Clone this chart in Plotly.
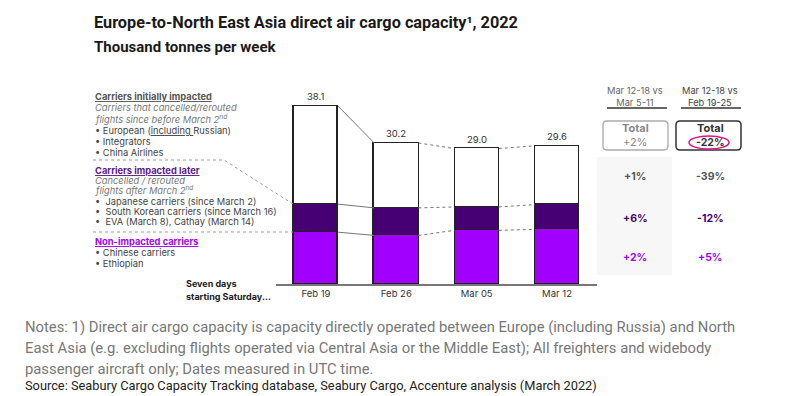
import plotly.graph_objects as go

# ---- data ----
weeks = ["Feb 19", "Feb 26", "Mar 05", "Mar 12"]
non_impacted = [11.1, 10.4, 11.5, 11.7]      # bright purple (bottom)
impacted_later = [6.0, 5.9, 5.0, 5.3]        # dark purple (middle)
initially_impacted = [21.0, 13.9, 12.5, 12.6]  # white (top)
totals = [38.1, 30.2, 29.0, 29.6]

col1_header = "Mar 12-18 vs<br>Mar 5-11"
col2_header = "Mar 12-18 vs<br>Feb 19-25"
col1_vals = ["+2%", "+1%", "+6%", "+2%"]
col2_vals = ["-22%", "-39%", "-12%", "+5%"]

W, H = 796, 396
DARK = "#460073"
BRIGHT = "#a100ff"
BAR_W = 0.55


def X(px):
    return px / W


def Y(py):
    return 1 - py / H


xs = list(range(len(weeks)))
fig = go.Figure()
for vals, color in [(non_impacted, BRIGHT), (impacted_later, DARK), (initially_impacted, "white")]:
    fig.add_trace(go.Bar(x=xs, y=vals, width=BAR_W, marker=dict(color=color, line=dict(color="#222", width=1.3)),
                         hoverinfo="skip", showlegend=False))

shapes = []
levels = []
for i in range(len(weeks)):
    a = non_impacted[i]
    b = a + impacted_later[i]
    c = b + initially_impacted[i]
    levels.append([a, b, c])
for i in range(len(weeks) - 1):
    for k in range(3):
        shapes.append(dict(type="line", xref="x", yref="y", x0=i + BAR_W / 2, x1=i + 1 - BAR_W / 2,
                           y0=levels[i][k], y1=levels[i + 1][k],
                           line=dict(color="#777", width=1, dash="solid" if i == 0 else "dot")))

shapes.append(dict(type="path", xref="paper", yref="paper",
                   path=f"M {X(93)} {Y(160)} L {X(224)} {Y(160)} L {X(293)} {Y(204)}",
                   line=dict(color="#999", width=1, dash="dot")))
shapes.append(dict(type="line", xref="paper", yref="paper", x0=X(93), x1=X(293), y0=Y(232), y1=Y(232),
                   line=dict(color="#999", width=1, dash="dot")))

shapes.append(dict(type="rect", xref="paper", yref="paper", x0=X(597), x1=X(672), y0=Y(275), y1=Y(157),
                   fillcolor="#f7f7f7", line=dict(width=0), layer="below"))
for x0, x1 in [(607, 667), (681, 741)]:
    shapes.append(dict(type="line", xref="paper", yref="paper", x0=X(x0), x1=X(x1), y0=Y(108), y1=Y(108),
                       line=dict(color="#333", width=1.5)))


def rrect(x0, y0, x1, y1, r):
    return (f"M {X(x0 + r)} {Y(y0)} L {X(x1 - r)} {Y(y0)} Q {X(x1)} {Y(y0)} {X(x1)} {Y(y0 + r)} "
            f"L {X(x1)} {Y(y1 - r)} Q {X(x1)} {Y(y1)} {X(x1 - r)} {Y(y1)} L {X(x0 + r)} {Y(y1)} "
            f"Q {X(x0)} {Y(y1)} {X(x0)} {Y(y1 - r)} L {X(x0)} {Y(y0 + r)} Q {X(x0)} {Y(y0)} {X(x0 + r)} {Y(y0)} Z")


shapes.append(dict(type="path", xref="paper", yref="paper", path=rrect(603, 121, 668, 150, 4),
                   line=dict(color="#aaa", width=1.3)))
shapes.append(dict(type="path", xref="paper", yref="paper", path=rrect(676, 121, 741, 150, 4),
                   line=dict(color="#333", width=1.5)))
shapes.append(dict(type="circle", xref="paper", yref="paper", x0=X(689), x1=X(729), y0=Y(149), y1=Y(136),
                   line=dict(color="#e0108a", width=1.5)))

ann = []


def t(px, py, text, size=9.3, color="#555", xanchor="left", family="Inter", yanchor="middle"):
    ann.append(dict(x=X(px), y=Y(py), xref="paper", yref="paper", text=text, showarrow=False,
                    xanchor=xanchor, yanchor=yanchor, font=dict(size=size, color=color, family=family),
                    align="left" if xanchor == "left" else "center"))


t(92, 22, "<b>Europe-to-North East Asia direct air cargo capacity¹, 2022</b>", size=16.3, color="#1a1a1a",
  family="Roboto")
t(92, 47, "<b>Thousand tonnes per week</b>", size=15, color="#1a1a1a", family="Roboto")

t(93, 97, "<b><u>Carriers initially impacted</u></b>", color="#555")
t(93, 108, "<i>Carriers that cancelled/rerouted</i>", color="#777")
t(93, 119, "<i>flights since before March 2<sup>nd</sup></i>", color="#777")
t(93, 130, "• European (<u>including </u>Russian)", color="#444")
t(93, 141, "• Integrators", color="#444")
t(93, 152, "• China Airlines", color="#444")
t(93, 170, "<b><u>Carriers impacted later</u></b>", color="#5a1a8a")
t(93, 180, "<i>Cancelled / rerouted</i>", color="#777")
t(93, 190, "<i>flights after March 2<sup>nd</sup></i>", color="#777")
t(93, 201, "•  Japanese carriers (since March 2)", color="#444")
t(93, 211, "•  South Korean carriers (since March 16)", color="#444")
t(93, 222, "•  EVA (March 8), Cathay (March 14)", color="#444")
t(93, 241, "<b><u>Non-impacted carriers</u></b>", color=BRIGHT)
t(93, 252, "• Chinese carriers", color="#444")
t(93, 263, "• Ethiopian", color="#444")
t(184, 283, "<b>Seven days</b>", size=9, color="#222")
t(184, 296, "<b>starting Saturday...</b>", size=9, color="#222")

for i, v in enumerate(totals):
    ann.append(dict(x=i, y=v, xref="x", yref="y", text=f"{v:.1f}", showarrow=False, yanchor="bottom", yshift=2,
                    font=dict(size=9.5, color="#333", family="Inter")))

t(635, 97, col1_header, size=9.3, color="#666", xanchor="center")
t(710, 97, col2_header, size=9.3, color="#444", xanchor="center")
t(635, 128, "<b>Total</b>", size=11, color="#888", xanchor="center")
t(635, 142, col1_vals[0], size=11, color="#888", xanchor="center")
t(710, 128, "<b>Total</b>", size=11, color="#333", xanchor="center")
t(710, 142, f"<b>{col2_vals[0]}</b>", size=10.5, color="#333", xanchor="center")
row_y = [176, 219, 257]
row_c = ["#555", DARK, BRIGHT]
for k in range(3):
    t(635, row_y[k], f"<b>{col1_vals[k + 1]}</b>", size=10.5, color=row_c[k], xanchor="center")
    t(710, row_y[k], f"<b>{col2_vals[k + 1]}</b>", size=10.5, color=row_c[k], xanchor="center")

t(23, 327, "Notes: 1) Direct air cargo capacity is capacity directly operated between Europe (including Russia) and North",
  size=14.8, color="#777", family="Roboto")
t(23, 348, "East Asia (e.g. excluding flights operated via Central Asia or the Middle East); All freighters and widebody",
  size=14.8, color="#777", family="Roboto")
t(23, 369, "passenger aircraft only; Dates measured in UTC time.", size=14.8, color="#777", family="Roboto")
t(23, 385, "Source: Seabury Cargo Capacity Tracking database, Seabury Cargo, Accenture analysis (March 2022)",
  size=12.8, color="#222", family="Roboto")

fig.update_layout(
    barmode="stack", width=W, height=H, autosize=False,
    margin=dict(l=0, r=0, t=0, b=0),
    paper_bgcolor="white", plot_bgcolor="white",
    shapes=shapes, annotations=ann, bargap=0,
    xaxis=dict(domain=[275.8 / W, 597.2 / W], range=[-0.5, 3.5], tickvals=xs, ticktext=weeks,
               showline=True, linecolor="#777", linewidth=1.5, showgrid=False, zeroline=False, ticks="",
               tickfont=dict(size=9.5, color="#333", family="Inter"), fixedrange=True),
    yaxis=dict(domain=[112 / H, 298.8 / H], range=[0, 40], visible=False, showgrid=False, fixedrange=True),
)

fig.write_html("out.html", config={"displayModeBar": False},
               post_script="document.body.style.margin='0';document.body.style.overflow='hidden';")
